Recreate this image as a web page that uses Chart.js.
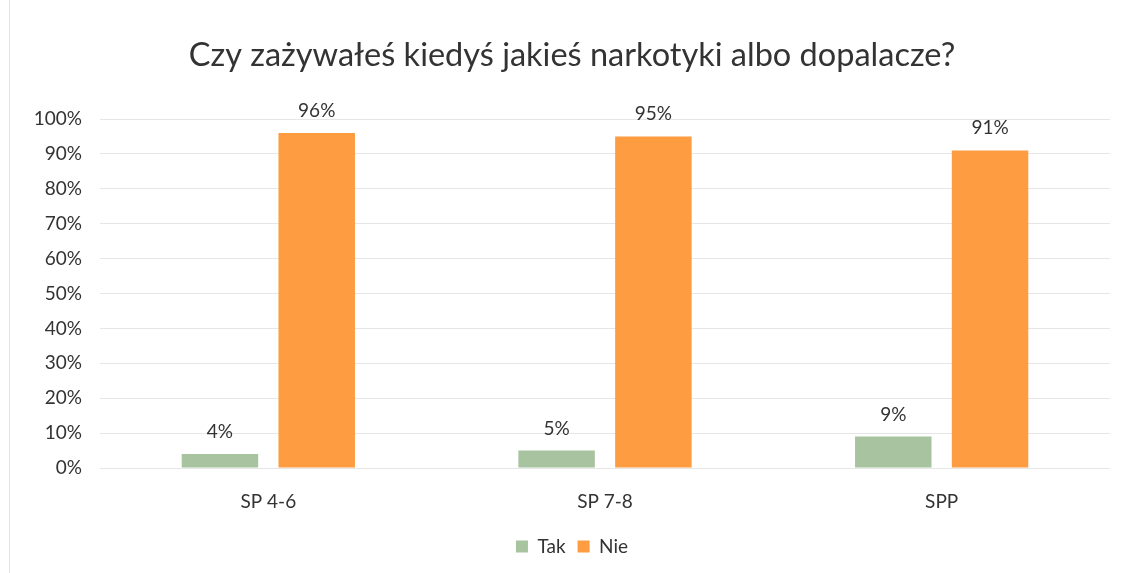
<!DOCTYPE html>
<html>
<head>
<meta charset="utf-8">
<script src="https://cdn.jsdelivr.net/npm/chart.js@4/dist/chart.umd.min.js"></script>
<style>
  html, body { margin: 0; padding: 0; background: #fff; }
  #wrap { position: relative; width: 1126px; height: 573px; }
  #wrap::before { content: ""; position: absolute; left: 9px; top: 0; bottom: 0; border-left: 1px solid #e4e4e4; }
</style>
</head>
<body>
<div id="wrap"><canvas id="chart"></canvas></div>
<script>
const categories = ["SP 4-6", "SP 7-8", "SPP"];
const takValues = [4, 5, 9];
const nieValues = [96, 95, 91];
const seriesNames = ["Tak", "Nie"];
const titleText = "Czy zażywałeś kiedyś jakieś narkotyki albo dopalacze?";

const FONT = "Lato, 'Open Sans', sans-serif";
const TEXT = "#333333";

// value labels above each bar
const valueLabels = {
  id: "valueLabels",
  afterDatasetsDraw(chart) {
    const ctx = chart.ctx;
    ctx.save();
    ctx.font = "19px " + FONT;
    ctx.fillStyle = TEXT;
    ctx.textAlign = "center";
    ctx.textBaseline = "alphabetic";
    chart.data.datasets.forEach((ds, i) => {
      chart.getDatasetMeta(i).data.forEach((bar, j) => {
        ctx.fillText(ds.data[j] + "%", bar.x, bar.y - 16);
      });
    });
    ctx.restore();
  }
};

new Chart(document.getElementById("chart"), {
  type: "bar",
  data: {
    labels: categories,
    datasets: [
      { label: seriesNames[0], data: takValues, backgroundColor: "#a8c3a0" },
      { label: seriesNames[1], data: nieValues, backgroundColor: "#fd9c40" }
    ]
  },
  options: {
    responsive: true,
    maintainAspectRatio: false,
    animation: false,
    categoryPercentage: 0.575,
    barPercentage: 0.79,
    layout: { padding: { left: 34, right: 16, top: 0, bottom: 7 } },
    plugins: {
      title: {
        display: true,
        text: titleText,
        color: TEXT,
        font: { family: FONT, size: 32.5, weight: "normal" },
        padding: { top: 36, bottom: 44 }
      },
      legend: {
        position: "bottom",
        labels: {
          color: TEXT,
          font: { family: FONT, size: 19 },
          boxWidth: 12,
          boxHeight: 12,
          padding: 12
        }
      },
      tooltip: { enabled: false }
    },
    scales: {
      x: {
        afterFit(scale) { scale.height = 57; },
        grid: { display: false },
        border: { display: false },
        ticks: { color: TEXT, font: { family: FONT, size: 19 }, padding: 14 }
      },
      y: {
        min: 0,
        max: 100,
        afterFit(scale) { scale.width = 66; },
        grid: { color: "#e6e6e6", drawTicks: false },
        border: { display: false },
        ticks: {
          stepSize: 10,
          padding: 18,
          color: TEXT,
          font: { family: FONT, size: 19 },
          callback: v => v + "%"
        }
      }
    }
  },
  plugins: [valueLabels]
});
</script>
</body>
</html>
